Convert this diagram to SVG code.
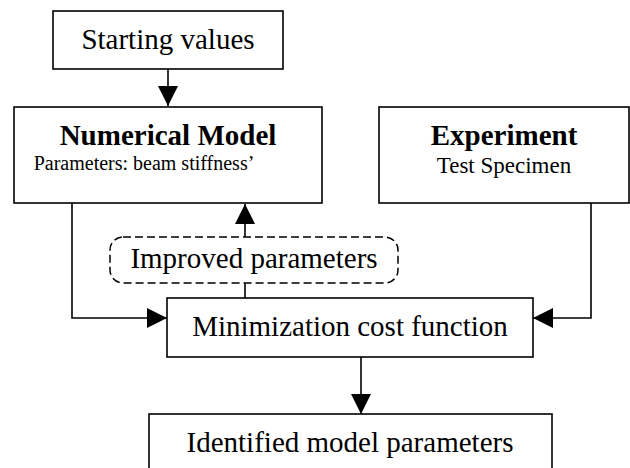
<svg xmlns="http://www.w3.org/2000/svg" width="630" height="468" viewBox="0 0 630 468">
<defs>
<style>
.box{fill:#fff;stroke:#000;stroke-width:1.6}
.dash{fill:#fff;stroke:#000;stroke-width:1.5;stroke-dasharray:8,4}
.t{font-family:"Liberation Serif","Times New Roman",serif;fill:#000;text-anchor:middle}
.big{font-size:29px}
.b{font-weight:bold}
.line{fill:none;stroke:#000;stroke-width:1.6}
</style>
<marker id="ah" markerUnits="userSpaceOnUse" markerWidth="20" markerHeight="20" viewBox="0 0 20 20" refX="20" refY="10" orient="auto">
<path d="M0,0 L20,10 L0,20 Z" fill="#000"/>
</marker>
</defs>
<g id="connectors">
<path class="line" d="M168,69 L168,106" marker-end="url(#ah)"/>
<path class="line" d="M72,203 L72,318 L167,318" marker-end="url(#ah)"/>
<path class="line" d="M591,203 L591,318 L533,318" marker-end="url(#ah)"/>
<path class="line" d="M245,298 L245,283"/>
<path class="line" d="M245,237 L245,204" marker-end="url(#ah)"/>
<path class="line" d="M361,357 L361,414" marker-end="url(#ah)"/>
</g>
<g id="starting">
<rect class="box" x="53" y="11" width="230" height="58"/>
<text class="t big" x="168" y="49">Starting values</text>
</g>
<g id="numerical">
<rect class="box" x="14" y="107" width="308" height="96"/>
<text class="t big b" x="168" y="145">Numerical Model</text>
<text class="t" x="144" y="170" font-size="20">Parameters: beam stiffness’</text>
</g>
<g id="experiment">
<rect class="box" x="379" y="107" width="250" height="96"/>
<text class="t big b" x="504" y="145">Experiment</text>
<text class="t" x="504" y="172.5" font-size="23">Test Specimen</text>
</g>
<g id="improved">
<rect class="dash" x="110" y="237" width="288" height="46" rx="13" ry="13"/>
<text class="t big" x="254" y="268">Improved parameters</text>
</g>
<g id="minimization">
<rect class="box" x="167" y="298" width="366" height="59"/>
<text class="t big" x="350" y="336">Minimization cost function</text>
</g>
<g id="identified">
<rect class="box" x="149" y="414" width="403" height="70"/>
<text class="t big" x="350" y="452">Identified model parameters</text>
</g>
</svg>
